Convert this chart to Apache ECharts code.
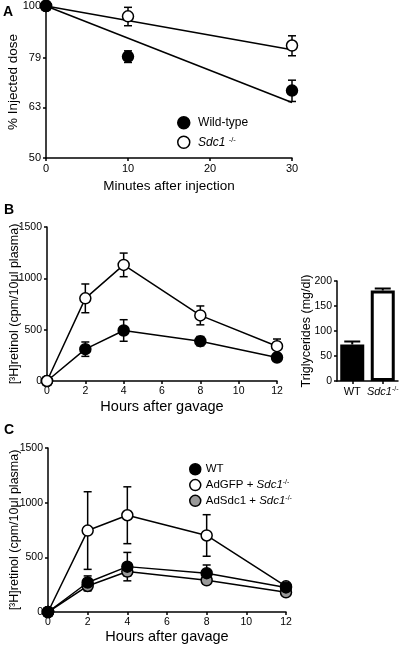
<!DOCTYPE html>
<html><head><meta charset="utf-8">
<script src="https://cdn.jsdelivr.net/npm/echarts@6/dist/echarts.min.js"></script>
<style>html,body{margin:0;padding:0;background:#fff}#c{width:406px;height:648px}</style>
</head><body><div id="c"></div>
<script>
// ---------- Panel A ----------
const aMinutes = [0, 10, 30];
const aWildType = [100, 79.4, 68.0];
const aWildTypeErr = [0, 2.1, 3.3];
const aSdc1 = [100, 95.4, 83.5];
const aSdc1Err = [0, 4.0, 3.8];
const aFitX = [0, 30];
const aFitWildType = [100, 64.4];
const aFitSdc1 = [100, 81.9];
const aYTicks = [50, 63, 79, 100];
// ---------- Panel B ----------
const bHours = [0, 2, 4, 8, 12];
const bWT = [0, 310, 492, 388, 229];
const bWTErr = [0, 70, 105, 45, 25];
const bSdc1 = [0, 805, 1131, 639, 339];
const bSdc1Err = [0, 140, 115, 92, 70];
const bTGCats = ['WT', 'Sdc1-/-'];
const bTG = [73, 181];
const bTGErr = [6, 4];
// ---------- Panel C ----------
const cHours = [0, 2, 4, 8, 12];
const cWT = [0, 270, 415, 355, 225];
const cWTErr = [0, 60, 130, 75, 25];
const cAdGFP = [0, 745, 885, 700, 235];
const cAdGFPErr = [0, 355, 260, 190, 20];
const cAdSdc1 = [0, 238, 370, 290, 180];
const cAdSdc1Err = [0, 45, 40, 35, 20];

const FONT = "'Liberation Sans', Arial, Helvetica, sans-serif";
const L = v => Math.log10(v);
const ident = v => v;
function pts(xs, ys, f) { f = f || ident; return xs.map((x, i) => [x, f(ys[i])]); }
function errs(xs, ys, es, f) {
  f = f || ident; const out = [];
  xs.forEach((x, i) => { if (es[i] > 0) out.push([x, f(ys[i] - es[i]), f(ys[i] + es[i])]); });
  return out;
}
const ST = { stroke: '#000', lineWidth: 1.5 };
function errRender(cap) {
  return function (params, api) {
    const x = api.value(0);
    const p1 = api.coord([x, api.value(1)]);
    const p2 = api.coord([x, api.value(2)]);
    return { type: 'group', children: [
      { type: 'line', shape: { x1: p1[0], y1: p1[1], x2: p2[0], y2: p2[1] }, style: ST },
      { type: 'line', shape: { x1: p1[0] - cap, y1: p1[1], x2: p1[0] + cap, y2: p1[1] }, style: ST },
      { type: 'line', shape: { x1: p2[0] - cap, y1: p2[1], x2: p2[0] + cap, y2: p2[1] }, style: ST }
    ] };
  };
}
function barErrRender(cap) {
  return function (params, api) {
    const x = api.value(0);
    const p1 = api.coord([x, api.value(1)]);
    const p2 = api.coord([x, api.value(2)]);
    const s = { stroke: '#000', lineWidth: 2 };
    return { type: 'group', children: [
      { type: 'line', shape: { x1: p1[0], y1: p1[1], x2: p2[0], y2: p2[1] }, style: s },
      { type: 'line', shape: { x1: p2[0] - cap, y1: p2[1], x2: p2[0] + cap, y2: p2[1] }, style: s }
    ] };
  };
}
function axis(o) {
  const base = {
    axisLine: { show: true, onZero: false, lineStyle: { color: '#000', width: 1.5 } },
    axisTick: { show: true, length: 3, lineStyle: { color: '#000', width: 1.5 } },
    axisLabel: { color: '#000', fontSize: 10.5, fontFamily: FONT, margin: 5, formatter: v => String(v) },
    splitLine: { show: false },
    nameLocation: 'middle',
    nameMoveOverlap: false,
    nameTextStyle: { color: '#000', fontFamily: FONT, fontSize: 14 }
  };
  const r = Object.assign({}, base, o);
  ['axisLine', 'axisTick', 'axisLabel', 'nameTextStyle'].forEach(k => { if (o[k]) r[k] = Object.assign({}, base[k], o[k]); });
  return r;
}
const RICH = {
  i: { fontStyle: 'italic', fontFamily: FONT, color: '#000' },
  s: { fontSize: 7, verticalAlign: 'top', fontFamily: FONT, color: '#000' }
};
const open = { color: '#fff', borderColor: '#000', borderWidth: 1.5, opacity: 1 };
const filled = { color: '#000', borderColor: '#000', borderWidth: 1.5, opacity: 1 };
const grey = { color: '#999', borderColor: '#000', borderWidth: 1.5, opacity: 1 };
function lineSeries(name, xi, xs, ys, style, z) {
  return { name, type: 'line', xAxisIndex: xi, yAxisIndex: xi, data: pts(xs, ys), symbol: 'circle', symbolSize: 11,
    showAllSymbol: true, clip: false, itemStyle: style, lineStyle: { color: '#000', width: 1.5 }, z, emphasis: { disabled: true } };
}
function errSeries(xi, xs, ys, es, f, z) {
  return { type: 'custom', xAxisIndex: xi, yAxisIndex: xi, data: errs(xs, ys, es, f), renderItem: errRender(4),
    encode: { x: 0, y: [1, 2] }, clip: false, z, silent: true };
}

const chart = echarts.init(document.getElementById('c'), null, { renderer: 'canvas' });
chart.setOption({
  animation: false,
  backgroundColor: '#fff',
  textStyle: { fontFamily: FONT },
  grid: [
    { left: 46, top: 6, width: 246, height: 152, containLabel: false, outerBoundsMode: 'none' },
    { left: 47, top: 227, width: 230, height: 154, containLabel: false, outerBoundsMode: 'none' },
    { left: 337, top: 281, width: 61, height: 100, containLabel: false, outerBoundsMode: 'none' },
    { left: 48, top: 448, width: 238, height: 164, containLabel: false, outerBoundsMode: 'none' }
  ],
  xAxis: [
    axis({ gridIndex: 0, type: 'value', min: 0, max: 30, interval: 10, name: 'Minutes after injection', nameGap: 21,
      nameTextStyle: { fontSize: 13.5 }, axisLabel: { fontSize: 11 } }),
    axis({ gridIndex: 1, type: 'value', min: 0, max: 12, interval: 2, name: 'Hours after gavage', nameGap: 18.5,
      nameTextStyle: { fontSize: 14.5 } }),
    axis({ gridIndex: 2, type: 'category', data: bTGCats, boundaryGap: true,
      axisTick: { show: true, alignWithLabel: true, length: 3 },
      axisLabel: { fontSize: 11, margin: 5, interval: 0, hideOverlap: false, rich: RICH,
        formatter: v => v === 'WT' ? 'WT' : '{i|Sdc1}{s|-/-}' } }),
    axis({ gridIndex: 3, type: 'value', min: 0, max: 12, interval: 2, name: 'Hours after gavage', nameGap: 17.5,
      nameTextStyle: { fontSize: 14.5 } })
  ],
  yAxis: [
    axis({ gridIndex: 0, type: 'value', min: L(50), max: L(100), name: '% Injected dose', nameGap: 26,
      nameTextStyle: { fontSize: 13.5 },
      axisLabel: { fontSize: 11, customValues: aYTicks.map(L), formatter: v => String(Math.round(Math.pow(10, v))) },
      axisTick: { customValues: aYTicks.map(L) } }),
    axis({ gridIndex: 1, type: 'value', min: 0, max: 1500, interval: 500, name: '[³H]retinol (cpm/10μl plasma)', nameGap: 26,
      nameTextStyle: { fontSize: 12.5 } }),
    axis({ gridIndex: 2, type: 'value', min: 0, max: 200, interval: 50, name: 'Triglycerides (mg/dl)', nameGap: 24,
      nameTextStyle: { fontSize: 12.5 } }),
    axis({ gridIndex: 3, type: 'value', min: 0, max: 1500, interval: 500, name: '[³H]retinol (cpm/10μl plasma)', nameGap: 27,
      nameTextStyle: { fontSize: 12.5 } })
  ],
  legend: [
    { left: 172, top: 111, orient: 'vertical', itemWidth: 12, itemHeight: 12, itemGap: 6, selectedMode: false,
      textStyle: { fontSize: 12, color: '#000', fontFamily: FONT, rich: Object.assign({}, RICH, { i: Object.assign({}, RICH.i, { fontSize: 12 }), s: Object.assign({}, RICH.s, { fontSize: 7.5 }) }) },
      formatter: n => n === 'Wild-type' ? ' Wild-type' : ' {i|Sdc1} {s|-/-}',
      data: [ { name: 'Wild-type', icon: 'circle', itemStyle: filled }, { name: 'Sdc1 -/-', icon: 'circle', itemStyle: open } ] },
    { left: 184, top: 458, orient: 'vertical', itemWidth: 11, itemHeight: 11, itemGap: 3.3, selectedMode: false,
      textStyle: { fontSize: 11.5, color: '#000', fontFamily: FONT, rich: Object.assign({}, RICH, { i: Object.assign({}, RICH.i, { fontSize: 11.5 }) }) },
      formatter: n => n === 'WT' ? 'WT' : (n.indexOf('AdGFP') === 0 ? 'AdGFP + {i|Sdc1}{s|-/-}' : 'AdSdc1 + {i|Sdc1}{s|-/-}'),
      data: [ { name: 'WT', icon: 'circle', itemStyle: filled }, { name: 'AdGFP + Sdc1-/-', icon: 'circle', itemStyle: open },
        { name: 'AdSdc1 + Sdc1-/-', icon: 'circle', itemStyle: grey } ] }
  ],
  graphic: [
    { type: 'text', left: 3, top: 5, style: { text: 'A', font: 'bold 14px ' + FONT, fill: '#000' } },
    { type: 'text', left: 4, top: 203, style: { text: 'B', font: 'bold 14px ' + FONT, fill: '#000' } },
    { type: 'text', left: 4, top: 423, style: { text: 'C', font: 'bold 14px ' + FONT, fill: '#000' } }
  ],
  series: [
    // Panel A
    { name: 'fitWT', type: 'line', xAxisIndex: 0, yAxisIndex: 0, data: pts(aFitX, aFitWildType, L), symbol: 'none', clip: false,
      lineStyle: { color: '#000', width: 1.5 }, z: 2, silent: true },
    { name: 'fitSdc1', type: 'line', xAxisIndex: 0, yAxisIndex: 0, data: pts(aFitX, aFitSdc1, L), symbol: 'none', clip: false,
      lineStyle: { color: '#000', width: 1.5 }, z: 2, silent: true },
    errSeries(0, aMinutes, aSdc1, aSdc1Err, L, 3),
    errSeries(0, aMinutes, aWildType, aWildTypeErr, L, 3),
    { name: 'Sdc1 -/-', type: 'scatter', xAxisIndex: 0, yAxisIndex: 0, data: pts(aMinutes, aSdc1, L), symbol: 'circle', symbolSize: 11,
      itemStyle: open, clip: false, z: 4, emphasis: { disabled: true } },
    { name: 'Wild-type', type: 'scatter', xAxisIndex: 0, yAxisIndex: 0, data: pts(aMinutes, aWildType, L), symbol: 'circle', symbolSize: 11,
      itemStyle: filled, clip: false, z: 5, emphasis: { disabled: true } },
    // Panel B
    errSeries(1, bHours, bWT, bWTErr, null, 3),
    errSeries(1, bHours, bSdc1, bSdc1Err, null, 3),
    lineSeries('B WT', 1, bHours, bWT, filled, 4),
    lineSeries('B Sdc1', 1, bHours, bSdc1, open, 5),
    { name: 'TG', type: 'bar', xAxisIndex: 2, yAxisIndex: 2, barWidth: 24,
      data: bTG.map((v, i) => ({ value: v, itemStyle: i === 0 ? { color: '#000', borderColor: '#000', borderWidth: 2 } : { color: '#fff', borderColor: '#000', borderWidth: 3 } })),
      z: 3, emphasis: { disabled: true } },
    { type: 'custom', xAxisIndex: 2, yAxisIndex: 2, data: bTG.map((v, i) => [i, v, v + bTGErr[i]]), renderItem: barErrRender(8),
      encode: { x: 0, y: [1, 2] }, clip: false, z: 4, silent: true },
    // Panel C
    errSeries(3, cHours, cAdGFP, cAdGFPErr, null, 3),
    errSeries(3, cHours, cAdSdc1, cAdSdc1Err, null, 3),
    errSeries(3, cHours, cWT, cWTErr, null, 3),
    lineSeries('AdGFP + Sdc1-/-', 3, cHours, cAdGFP, open, 4),
    lineSeries('AdSdc1 + Sdc1-/-', 3, cHours, cAdSdc1, grey, 5),
    lineSeries('WT', 3, cHours, cWT, filled, 6)
  ]
});
</script>
</body></html>
